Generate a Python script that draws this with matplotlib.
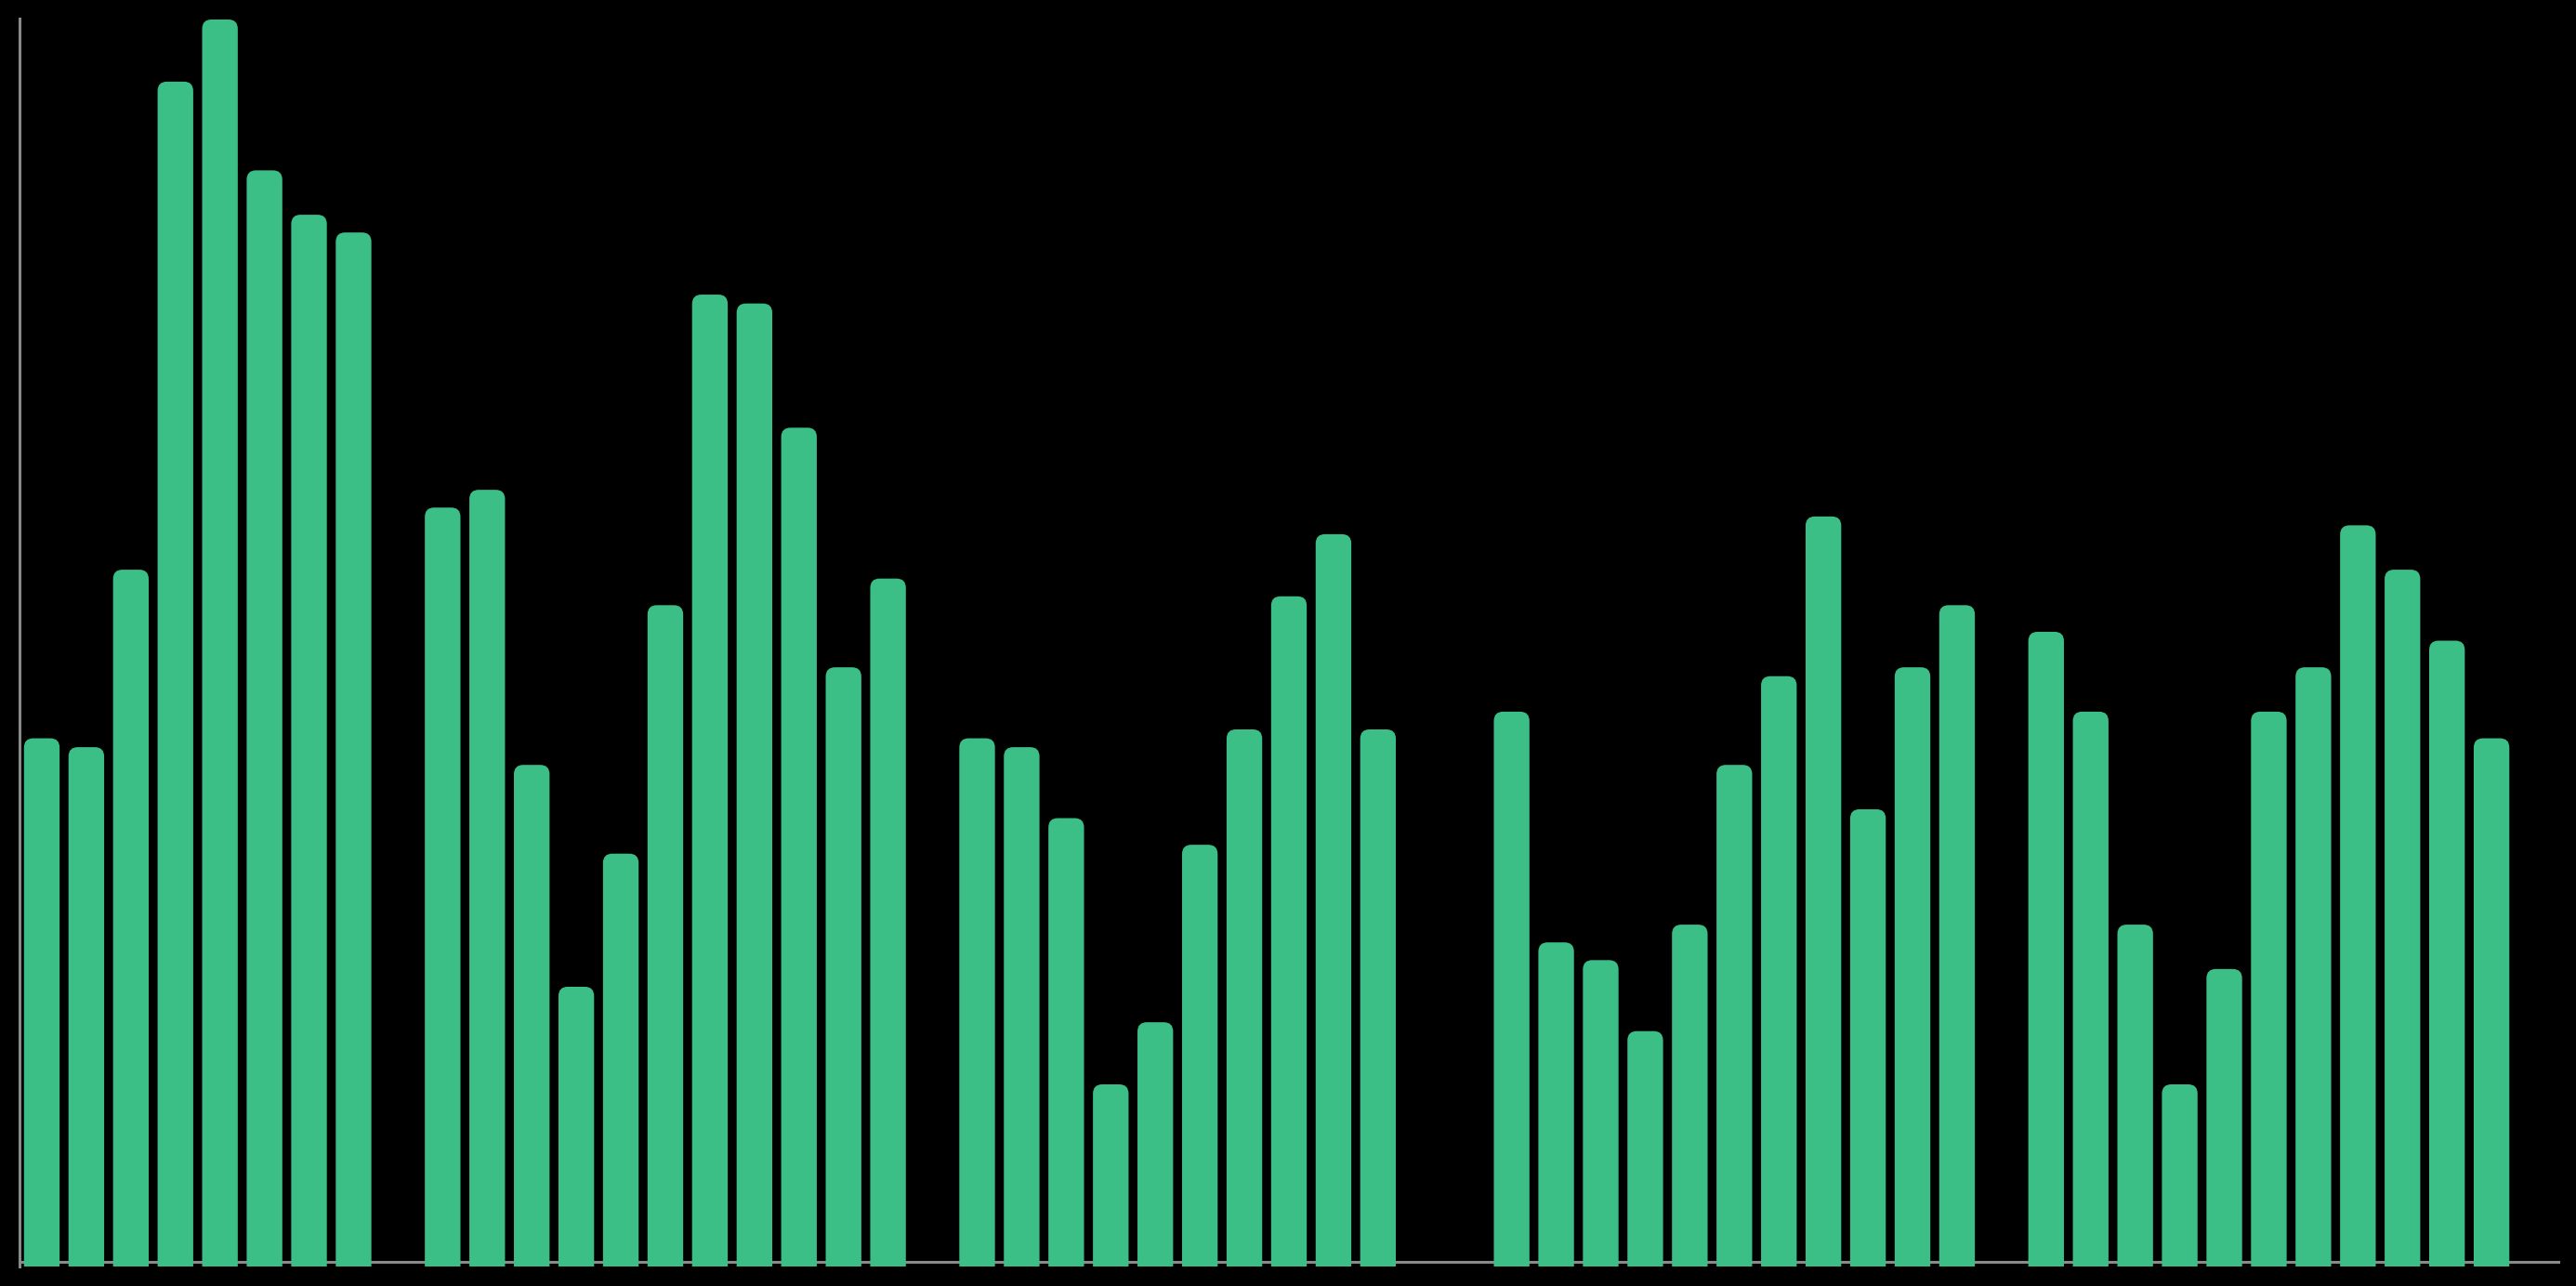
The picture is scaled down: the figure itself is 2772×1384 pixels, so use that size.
import numpy as np
import matplotlib
matplotlib.use('Agg')
import matplotlib.pyplot as plt
from matplotlib.patches import FancyBboxPatch

# bar heights, one slot per period; None = no bar in that slot
values = [59, 58, 78, 133, 140, 123, 118, 116, None,
          85, 87, 56, 31, 46, 74, 109, 108, 94, 67, 77, None,
          59, 58, 50, 20, 27, 47, 60, 75, 82, 60, None, None,
          62, 36, 34, 26, 38, 56, 66, 84, 51, 67, 74, None,
          71, 62, 38, 20, 33, 62, 67, 83, 78, 70, 59, None]

bar_color = '#3cbe87'
axis_color = '#8a8a8a'

W, H, dpi = 2772, 1384, 100
fig = plt.figure(figsize=(W / dpi, H / dpi), dpi=dpi, facecolor='black')

# axes geometry in pixels
left_px, right_px = 21, 2753
top_px, spine_px, bottom_px = 20, 1358, 1363
ax = fig.add_axes([left_px / W, (H - bottom_px) / H,
                   (right_px - left_px) / W, (bottom_px - top_px) / H])
ax.set_facecolor('black')

n = len(values)
ymax = 140
px_per_unit = (spine_px - 21) / ymax
ylo = -(bottom_px - spine_px) / px_per_unit
yhi = ymax + (21 - top_px) / px_per_unit
ax.set_xlim(-0.5, n - 0.5)
ax.set_ylim(ylo, yhi)

px_x = (right_px - left_px) / n          # pixels per x unit
px_y = px_per_unit                       # pixels per y unit
aspect = px_x / px_y
radius_px = 10
r = radius_px / px_x
width = 0.8

for i, v in enumerate(values):
    if v is None:
        continue
    y0 = ylo - 2 * r * aspect
    patch = FancyBboxPatch((i - width / 2, y0), width, v - y0,
                           boxstyle=f'round,pad=0,rounding_size={r}',
                           mutation_aspect=aspect,
                           facecolor=bar_color, edgecolor='none', zorder=3)
    ax.add_patch(patch)

for s in ['top', 'right']:
    ax.spines[s].set_visible(False)
ax.spines['bottom'].set_position(('data', 0))
for s in ['left', 'bottom']:
    ax.spines[s].set_color(axis_color)
    ax.spines[s].set_linewidth(2.2)
    ax.spines[s].set_zorder(2)
ax.set_xticks([])
ax.set_yticks([])

fig.savefig('out.png', dpi=dpi, facecolor='black')
